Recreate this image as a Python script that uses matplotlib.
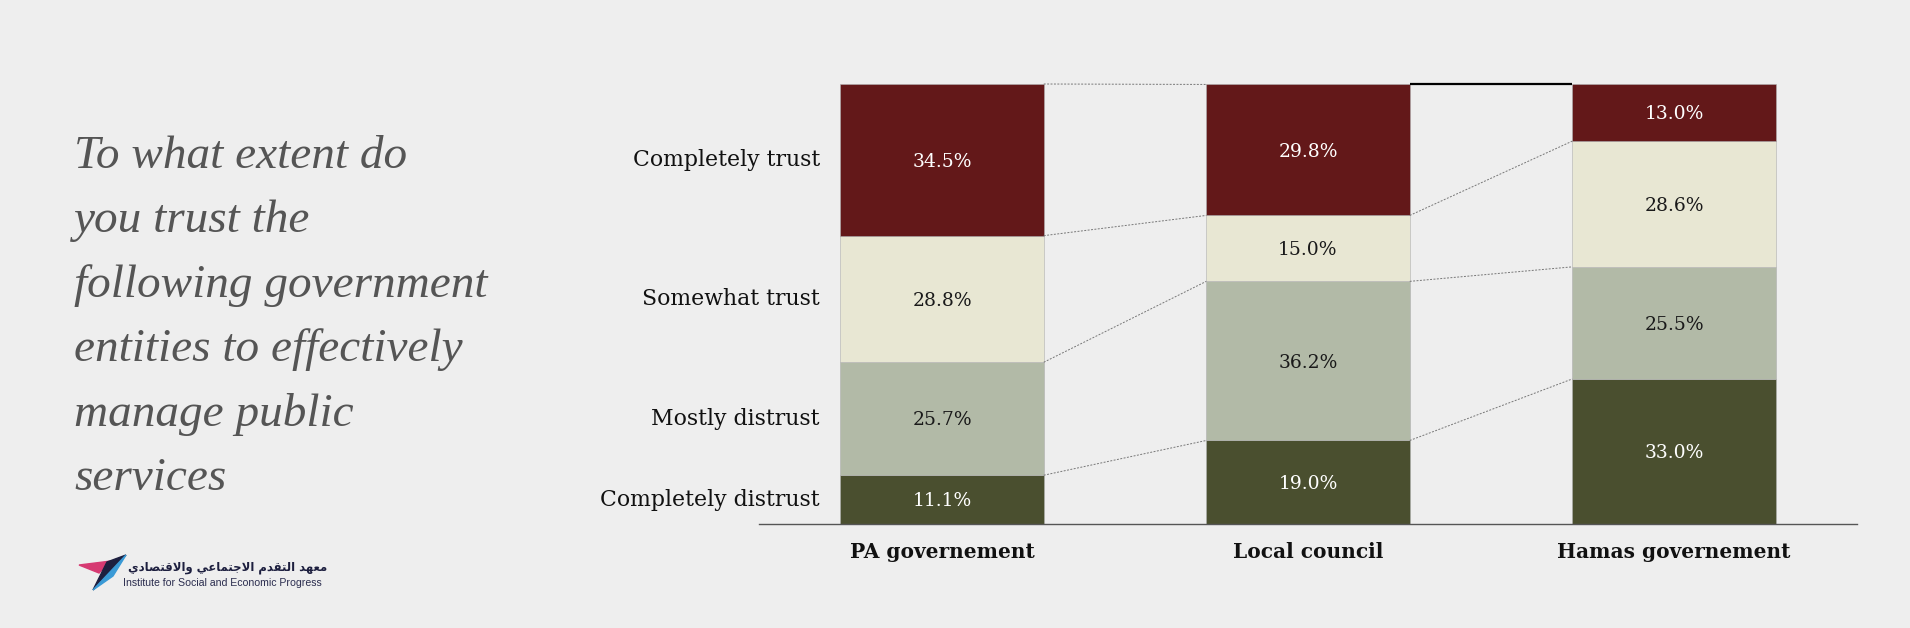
import numpy as np
import matplotlib.pyplot as plt
from matplotlib.patches import Polygon

# data
entities = ["PA governement", "Local council", "Hamas governement"]
levels = ["Completely distrust", "Mostly distrust", "Somewhat trust", "Completely trust"]
completely_distrust = [11.1, 19.0, 33.0]
mostly_distrust = [25.7, 36.2, 25.5]
somewhat_trust = [28.8, 15.0, 28.6]
completely_trust = [34.5, 29.8, 13.0]

title_lines = ["To what extent do", "you trust the", "following government",
               "entities to effectively", "manage public", "services"]

colors = ["#4a4f2f", "#b2baa7", "#e8e7d3", "#631819"]
text_colors = ["white", "#1a1a1a", "#1a1a1a", "white"]
bg = "#eeeeee"

W, H = 1910, 628
fig = plt.figure(figsize=(W / 100, H / 100), dpi=100, facecolor=bg)

def fx(x):
    return x / W

def fy(y):
    return 1 - y / H

ax = fig.add_axes([fx(759), fy(524), (1857 - 759) / W, (524 - 84) / H])
ax.set_facecolor(bg)

series = np.array([completely_distrust, mostly_distrust, somewhat_trust, completely_trust])
x = np.arange(len(entities))
width = 0.556
bottoms = np.zeros(len(entities))
for k, vals in enumerate(series):
    ax.bar(x, vals, width, bottom=bottoms, color=colors[k], edgecolor="#b0b0b0", linewidth=0.4)
    for i, v in enumerate(vals):
        ax.text(x[i], bottoms[i] + v / 2 - 0.4, f"{v:.1f}%", ha="center", va="center",
                color=text_colors[k], fontsize=13.5, family="DejaVu Serif")
    bottoms = bottoms + vals

# connector lines between adjacent bars
cum = np.cumsum(series, axis=0)
for i in range(len(entities) - 1):
    for k in range(len(levels)):
        y0, y1 = cum[k, i], cum[k, i + 1]
        if k == len(levels) - 1 and i == 1:
            ax.plot([x[i] + width / 2, x[i + 1] - width / 2], [y0, y0], color="black",
                    lw=1.6, clip_on=False, solid_capstyle="butt")
        else:
            ax.plot([x[i] + width / 2, x[i + 1] - width / 2], [y0, y1], color="#777777",
                    lw=0.7, ls=(0, (2, 1.5)), clip_on=False)

# level labels at PA segment centres
pa_mid = cum[:, 0] - series[:, 0] / 2
for k, lab in enumerate(levels):
    ax.text(-0.334, pa_mid[k], lab, ha="right", va="center", fontsize=15.8,
            family="DejaVu Serif", color="#111111")

ax.set_xlim(-0.5, 2.5)
ax.set_ylim(0, 100.1)
ax.set_xticks(x)
ax.set_xticklabels(entities, fontsize=14.5, fontweight="bold", family="DejaVu Serif", color="#111111")
ax.tick_params(axis="x", length=0, pad=13)
ax.set_yticks([])
for s in ["top", "left", "right"]:
    ax.spines[s].set_visible(False)
ax.spines["bottom"].set_color("#555555")
ax.spines["bottom"].set_linewidth(1)

# title
for i, line in enumerate(title_lines):
    fig.text(fx(74), fy(168 + 64.4 * i), line, ha="left", va="baseline", fontsize=34,
             style="italic", family="Liberation Serif", color="#555555")

# logo
fig.patches.append(Polygon([(fx(79), fy(565)), (fx(111), fy(561)), (fx(99), fy(573))],
                           closed=True, transform=fig.transFigure, color="#d63a72"))
fig.patches.append(Polygon([(fx(93), fy(590)), (fx(107), fy(562)), (fx(126), fy(555))],
                           closed=True, transform=fig.transFigure, color="#1d1f3f"))
fig.patches.append(Polygon([(fx(93), fy(590)), (fx(126), fy(555)), (fx(113), fy(576))],
                           closed=True, transform=fig.transFigure, color="#3a9ad6"))

arabic = "\uFEE3\uFECC\uFEEC\uFEAA \uFE8D\uFEDF\uFE98\uFED8\uFEAA\uFEE1 \uFE8D\uFEFB\uFE9F\uFE98\uFEE4\uFE8E\uFECB\uFEF2 \uFEED\uFE8D\uFEFB\uFED7\uFE98\uFEBC\uFE8E\uFEA9\uFEF1"
fig.text(fx(327), fy(567), arabic[::-1], ha="right", va="center", fontsize=8.4,
         fontweight="bold", family="DejaVu Sans", color="#1d1f3f")
fig.text(fx(123), fy(583), "Institute for Social and Economic Progress", ha="left", va="center",
         fontsize=7.6, family="Liberation Sans", color="#2b2d4f")

fig.savefig("out.png", dpi=100, facecolor=bg)
